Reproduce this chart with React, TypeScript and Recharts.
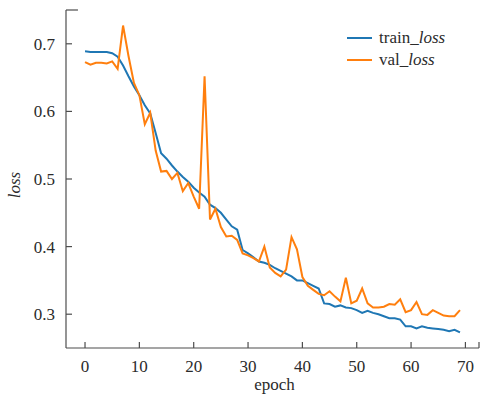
import React from 'react';
import { LineChart, Line, XAxis, YAxis, Legend, ReferenceLine } from 'recharts';

const trainLoss = [
  0.689, 0.688, 0.688, 0.688, 0.688, 0.686, 0.681, 0.668, 0.652, 0.637,
  0.624, 0.609, 0.597, 0.568, 0.538, 0.530, 0.520, 0.511, 0.503, 0.496,
  0.487, 0.480, 0.474, 0.462, 0.457, 0.450, 0.440, 0.430, 0.425, 0.395,
  0.390, 0.384, 0.378, 0.376, 0.373, 0.368, 0.364, 0.360, 0.356, 0.350,
  0.350, 0.346, 0.342, 0.338, 0.316, 0.315, 0.311, 0.313, 0.310, 0.309,
  0.306, 0.302, 0.305, 0.302, 0.300, 0.297, 0.294, 0.294, 0.292, 0.282,
  0.282, 0.279, 0.282, 0.280, 0.279, 0.278, 0.277, 0.275, 0.277, 0.273,
];

const valLoss = [
  0.673, 0.669, 0.672, 0.672, 0.671, 0.674, 0.663, 0.727, 0.682, 0.642,
  0.624, 0.581, 0.598, 0.542, 0.511, 0.512, 0.500, 0.509, 0.482, 0.494,
  0.474, 0.456, 0.652, 0.440, 0.456, 0.429, 0.415, 0.416, 0.410, 0.390,
  0.387, 0.383, 0.378, 0.400, 0.369, 0.361, 0.356, 0.366, 0.414, 0.396,
  0.355, 0.342, 0.336, 0.330, 0.328, 0.334, 0.326, 0.319, 0.354, 0.316,
  0.320, 0.338, 0.316, 0.310, 0.310, 0.311, 0.315, 0.314, 0.322, 0.303,
  0.306, 0.318, 0.300, 0.299, 0.306, 0.302, 0.298, 0.297, 0.297, 0.306,
];

const xTicks = [0, 10, 20, 30, 40, 50, 60, 70];
const yTicks = [0.3, 0.4, 0.5, 0.6, 0.7];
const xDomain: [number, number] = [-3.5, 72.5];
const yDomain: [number, number] = [0.25, 0.75];

const data = trainLoss.map((v, i) => ({ epoch: i, train: v, val: valLoss[i] }));

const FONT = 'Liberation Serif';
const AXIS = '#4d4d4d';
const TEXT = '#2b2b2b';
const BLUE = '#1f77b4';
const ORANGE = '#ff7f0e';

const LegendRow = ({ color, label }: { color: string; label: string }) => (
  <div style={{ display: 'flex', alignItems: 'center', height: 22 }}>
    <svg width={29} height={22} style={{ display: 'block' }}>
      <line x1={2} x2={27} y1={11} y2={11} stroke={color} strokeWidth={2} />
    </svg>
    <span style={{ marginLeft: 5, fontSize: 17, fontFamily: FONT, color: TEXT, lineHeight: '22px' }}>
      {label}_<i style={{ fontFamily: FONT }}>loss</i>
    </span>
  </div>
);

const renderLegend = () => (
  <div style={{ fontFamily: FONT }}>
    <LegendRow color={BLUE} label="train" />
    <LegendRow color={ORANGE} label="val" />
  </div>
);

export default function App() {
  return (
    <div style={{ position: 'absolute', left: 0, top: 0, background: '#fff', fontFamily: FONT }}>
      <LineChart width={489} height={397} data={data} margin={{ top: 10, right: 10, left: 0, bottom: 0 }}>
        <XAxis
          dataKey="epoch"
          type="number"
          domain={xDomain}
          ticks={[...xTicks, xDomain[1]]}
          interval={0}
          tickFormatter={(v: number) => (v === xDomain[1] ? '' : String(v))}
          tickSize={-6}
          tickMargin={18}
          height={49}
          stroke={AXIS}
          strokeWidth={1.2}
          tick={{ fill: TEXT, fontSize: 17, fontFamily: FONT }}
          label={{ value: 'epoch', position: 'insideBottom', offset: 7, fill: TEXT, fontSize: 17, fontFamily: FONT, dx: 2 }}
        />
        <YAxis
          type="number"
          domain={yDomain}
          ticks={yTicks}
          interval={0}
          tickFormatter={(v: number) => v.toFixed(1)}
          tickSize={-6}
          tickMargin={17}
          width={66}
          stroke={AXIS}
          strokeWidth={1.2}
          tick={{ fill: TEXT, fontSize: 17, fontFamily: FONT }}
          label={{
            content: (props: any) => {
              const vb = props.viewBox || { y: 10, height: 338 };
              const cx = 20;
              const cy = vb.y + vb.height / 2 + 6;
              return (
                <text
                  x={cx}
                  y={cy}
                  transform={`rotate(-90, ${cx}, ${cy})`}
                  textAnchor="middle"
                  fill={TEXT}
                  fontSize={17}
                  fontFamily={FONT}
                  fontStyle="italic"
                >
                  loss
                </text>
              );
            },
          }}
        />
        <ReferenceLine
          segment={[{ x: xDomain[0], y: yDomain[1] }, { x: -1.3, y: yDomain[1] }]}
          stroke={AXIS}
          strokeWidth={1.2}
          ifOverflow="visible"
        />
        <Line type="linear" dataKey="train" stroke={BLUE} strokeWidth={2} dot={false} isAnimationActive={false} />
        <Line type="linear" dataKey="val" stroke={ORANGE} strokeWidth={2} dot={false} isAnimationActive={false} />
        <Legend
          layout="horizontal"
          verticalAlign="middle"
          align="center"
          content={renderLegend}
          wrapperStyle={{ left: 345, top: 27, width: 140, height: 44 }}
        />
      </LineChart>
    </div>
  );
}
